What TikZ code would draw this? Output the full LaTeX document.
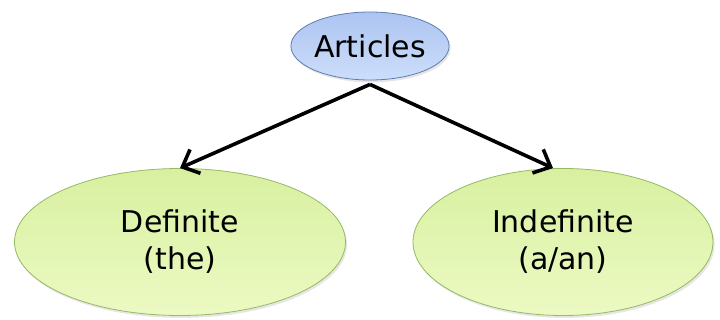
\documentclass[tikz,border=0pt]{standalone}
\usepackage{fontspec}
\setmainfont{DejaVu Sans}
\usetikzlibrary{shapes.geometric,arrows.meta,shadows}
\definecolor{topfill}{RGB}{172,196,240}
\definecolor{topfilllo}{RGB}{205,222,251}
\definecolor{topline}{RGB}{95,125,175}
\definecolor{kindfill}{RGB}{216,240,160}
\definecolor{kindfilllo}{RGB}{236,250,195}
\definecolor{kindline}{RGB}{150,185,100}
\begin{document}
\begin{tikzpicture}[
  x=0.5pt, y=-0.5pt,
  every node/.style = {shape=ellipse, inner sep=0pt, align=center,
    font=\fontsize{15}{18.5}\selectfont,
    drop shadow={opacity=0.2, shadow xshift=0.8pt, shadow yshift=-1.2pt}},
  topic/.style = {draw=topline, top color=topfill, bottom color=topfilllo,
    minimum width=77.5pt, minimum height=34pt},
  kind/.style = {draw=kindline, top color=kindfill, bottom color=kindfilllo,
    minimum height=73.5pt},
  link/.style = {line width=1.8pt, -{Straight Barb[length=7pt, width=13pt, line width=1.8pt]}}
]
  \useasboundingbox (0,0) rectangle (720,320);
  \node[topic] (articles) at (370,46) {Articles};
  \node[kind, minimum width=165.5pt] (definite) at (180,242) {Definite\\(the)};
  \node[kind, minimum width=150pt] (indefinite) at (563,242) {Indefinite\\(a/an)};
  \draw[link] ([yshift=-2pt]articles.south) -- (definite.north);
  \draw[link] ([yshift=-2pt]articles.south) -- ([xshift=-5pt]indefinite.north);
\end{tikzpicture}
\end{document}
